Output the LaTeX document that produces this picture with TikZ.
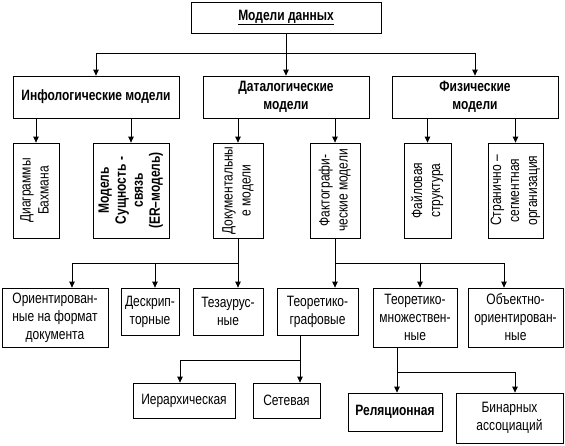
\documentclass[tikz,border=0pt]{standalone}
\usepackage{fontspec}
\setmainfont{Liberation Sans}[FakeStretch=0.8]
\usetikzlibrary{arrows.meta, shadows}
\newcommand{\mdfont}{\fontsize{15}{18}\selectfont}
\newcommand{\rottext}[1]{\rotatebox{90}{\begin{tabular}{@{}c@{}}#1\end{tabular}}}

\begin{document}
\begin{tikzpicture}[
    x=1pt, y=-1pt,
    box/.style={draw, line width=0.8pt, fill=white, align=center, inner sep=0pt, font=\mdfont,
        drop shadow={shadow xshift=1.3pt, shadow yshift=-1.3pt, fill=black!45, opacity=1}},
    lvl/.style={box, font=\mdfont\bfseries, minimum width=166pt, minimum height=42pt},
    vbox/.style={box, minimum height=95pt},
    ln/.style={line width=0.8pt},
    arr/.style={-{Triangle[length=6pt, width=5.5pt]}, line width=0.8pt},
]
    \useasboundingbox (0,0) rectangle (565,445);

    \node[box, font=\mdfont\bfseries, minimum width=190pt, minimum height=31pt] (root) at (286,17.5) {\underline{Модели данных}};

    \node[lvl] (info) at (96,97) {Инфологические модели};
    \node[lvl] (data) at (286,97) {Даталогические\\модели};
    \node[lvl] (phys) at (475,97) {Физические\\модели};

    \draw[ln] (root.south) -- ++(0,20) coordinate (j0);
    \draw[arr] (j0) -| (info.north);
    \draw[arr] (j0) -- (data.north);
    \draw[arr] (j0) -| (phys.north);

    % Second row (vertical text)
    \node[vbox, minimum width=46pt] (bach) at (36,190.5) {\rottext{Диаграммы\\Бахмана}};
    \node[vbox, minimum width=76pt, font=\fontsize{15}{17}\selectfont\bfseries] (er) at (131,190.5) {\rottext{Модель\\Сущность -\\связь\\(ER–модель)}};
    \node[vbox, minimum width=50pt] (docm) at (238,190.5) {\rottext{Документальны\\е модели}};
    \node[vbox, minimum width=50pt] (fact) at (335,190.5) {\rottext{Фактографи-\\ческие модели}};
    \node[vbox, minimum width=47pt] (file) at (427.5,190.5) {\rottext{Файловая\\структура}};
    \node[vbox, minimum width=55pt] (page) at (515.5,190.5) {\rottext{Странично –\\сегментная\\организация}};

    \draw[arr] (info.south -| bach.north) -- (bach.north);
    \draw[arr] (info.south -| er.north) -- (er.north);
    \draw[arr] (data.south -| docm.north) -- (docm.north);
    \draw[arr] (data.south -| fact.north) -- (fact.north);
    \draw[arr] (phys.south -| file.north) -- (file.north);
    \draw[arr] (phys.south -| page.north) -- (page.north);

    % Third row
    \node[box, minimum width=106pt, minimum height=59pt] (orient) at (55,317.5) {Ориентирован-\\ные на формат\\документа};
    \node[box, minimum width=58pt, minimum height=47pt] (descr) at (150,311.5) {Дескрип-\\торные};
    \node[box, minimum width=70pt, minimum height=47pt] (thes) at (228,311.5) {Тезаурус-\\ные};
    \node[box, minimum width=81pt, minimum height=47pt] (graph) at (317.5,311.5) {Теоретико-\\графовые};
    \node[box, minimum width=84pt, minimum height=59pt] (sets) at (415,317.5) {Теоретико-\\множествен-\\ные};
    \node[box, minimum width=95pt, minimum height=59pt] (obj) at (515.5,317.5) {Объектно-\\ориентирован-\\ные};

    \draw[ln] (docm.south) -- ++(0,25) coordinate (jd);
    \draw[arr] (jd) -| ([xshift=17pt]orient.north);
    \draw[arr] (jd) -| ([xshift=5pt]descr.north);
    \draw[arr] (jd) -- (jd |- thes.north);
    \draw[ln] (fact.south) -- ++(0,25) coordinate (jf);
    \draw[arr] (jf) -- (jf |- graph.north);
    \draw[arr] (jf) -| ([xshift=5pt]sets.north);
    \draw[arr] (jf) -| ([xshift=-11.5pt]obj.north);

    % Fourth row
    \node[box, minimum width=102pt, minimum height=35pt] (hier) at (184,400.5) {Иерархическая};
    \node[box, minimum width=67pt, minimum height=35pt] (net) at (286.5,400.5) {Сетевая};
    \node[box, font=\mdfont\bfseries, minimum width=94pt, minimum height=38pt] (rel) at (395,412) {Реляционная};
    \node[box, minimum width=107pt, minimum height=50pt] (bin) at (509.5,418) {Бинарных\\ассоциаций};

    \draw[ln] ([xshift=-17.5pt]graph.south) -- ++(0,25) coordinate (jg);
    \draw[arr] (jg) -| ([xshift=-4pt]hier.north);
    \draw[arr] (jg) -- (jg |- net.north);
    \draw[ln] ([xshift=-18pt]sets.south) -- ++(0,25) coordinate (jt);
    \draw[arr] (jt) -- (jt |- rel.north);
    \draw[arr] (jt) -| ([xshift=5.5pt]bin.north);
\end{tikzpicture}
\end{document}
